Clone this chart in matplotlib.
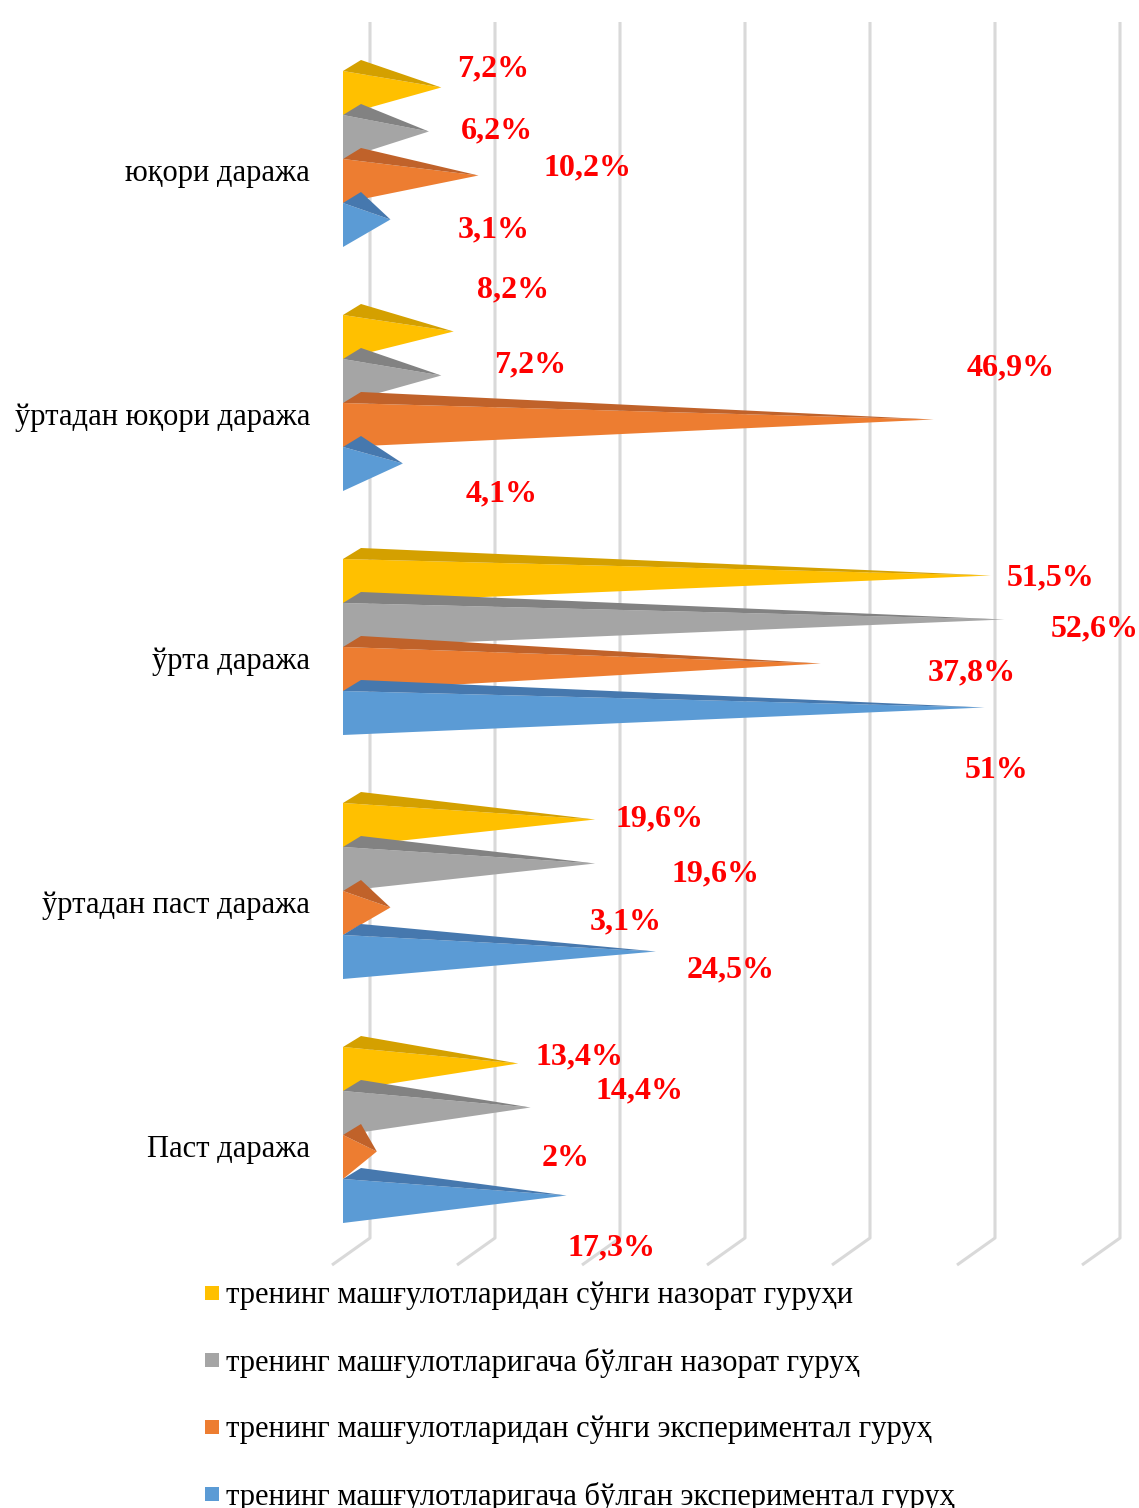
import matplotlib
matplotlib.use("Agg")
import matplotlib.pyplot as plt
from matplotlib.patches import Polygon

# ---------------- data ----------------
categories = ["юқори даража", "ўртадан юқори даража", "ўрта даража",
              "ўртадан паст даража", "Паст даража"]
series_names = ["тренинг машғулотларидан сўнги назорат гуруҳи",
                "тренинг машғулотларигача бўлган назорат гуруҳ",
                "тренинг машғулотларидан сўнги экспериментал гуруҳ",
                "тренинг машғулотларигача бўлган экспериментал гуруҳ"]
post_control = [7.2, 8.2, 51.5, 19.6, 13.4]
pre_control = [6.2, 7.2, 52.6, 19.6, 14.4]
post_experimental = [10.2, 46.9, 37.8, 3.1, 2.0]
pre_experimental = [3.1, 4.1, 51.0, 24.5, 17.3]
grid_ticks = [0, 10, 20, 30, 40, 50, 60]

# ---------------- style / layout ----------------
front_colors = ["#FFC000", "#A5A5A5", "#ED7D31", "#5B9BD5"]
top_colors = ["#D4A000", "#828282", "#C0622A", "#4678AE"]

# label centres (pixel layout) for each category / series
label_xy = [
    [(493, 66), (497, 128), (588, 165), (494, 227)],
    [(513, 287), (530, 362), (1011, 365), (502, 491)],
    [(1051, 575), (1095, 626), (972, 670), (997, 767)],
    [(660, 816), (715, 871), (626, 919), (731, 967)],
    [(580, 1054), (640, 1088), (566, 1156), (612, 1245)],
]

W, H = 1139, 1508
PX = 12.4          # pixels per percent
X0 = 352           # pixel x of zero (bar base centre)
GROUP_TOP = 71
GROUP_STEP = 244
BAR_H = 44
DEPTH_X, DEPTH_Y = 18, 11
TEXT_DY = 3

serif = ["Liberation Serif", "DejaVu Serif"]

fig = plt.figure(figsize=(W / 100, H / 100), dpi=100)
ax = fig.add_axes([0, 0, 1, 1])
ax.set_xlim(-X0 / PX, (W - X0) / PX)
ax.set_ylim(H, 0)
ax.axis("off")


def px2x(p):
    return (p - X0) / PX


# gridlines (back wall + floor)
for g in grid_ticks:
    xb = px2x(370 + g * 12.5)
    xf = px2x(370 + g * 12.5 - 38)
    ax.plot([xb, xb, xf], [22, 1238, 1265], color="#D9D9D9", lw=2.2,
            solid_capstyle="butt", zorder=1)

series = [post_control, pre_control, post_experimental, pre_experimental]

for ci, cat in enumerate(categories):
    gtop = GROUP_TOP + ci * GROUP_STEP
    for si, vals in enumerate(series):
        v = vals[ci]
        y0 = gtop + si * BAR_H
        y1 = y0 + BAR_H
        xf = px2x(X0 - DEPTH_X / 2)
        xb = px2x(X0 + DEPTH_X / 2)
        apex = (v, (y0 + y1) / 2 - DEPTH_Y / 2)
        front = Polygon([(xf, y0), (xf, y1), apex], closed=True,
                        facecolor=front_colors[si], edgecolor="none", zorder=3)
        top = Polygon([(xf, y0), (xb, y0 - DEPTH_Y), apex], closed=True,
                      facecolor=top_colors[si], edgecolor="none", zorder=3)
        ax.add_patch(front)
        ax.add_patch(top)
        lx, ly = label_xy[ci][si]
        txt = f"{v:g}".replace(".", ",") + "%"
        ax.text(px2x(lx), ly + TEXT_DY, txt, color="#FF0000", fontsize=23,
                fontweight="bold", family=serif, ha="center", va="center",
                zorder=5)
    ax.text(px2x(310), gtop + 2 * BAR_H + 11 + TEXT_DY, cat, fontsize=22,
            family=serif, ha="right", va="center", color="black", zorder=5)

# legend
leg_y = [1293, 1360, 1427, 1494]
for si, name in enumerate(series_names):
    ax.scatter([px2x(212)], [leg_y[si]], marker="s", s=100,
               color=front_colors[si], edgecolors="none", zorder=5)
    ax.text(px2x(226), leg_y[si] + TEXT_DY, name, fontsize=22, family=serif,
            ha="left", va="center", color="black", zorder=5)

fig.savefig("out.png", dpi=100)
